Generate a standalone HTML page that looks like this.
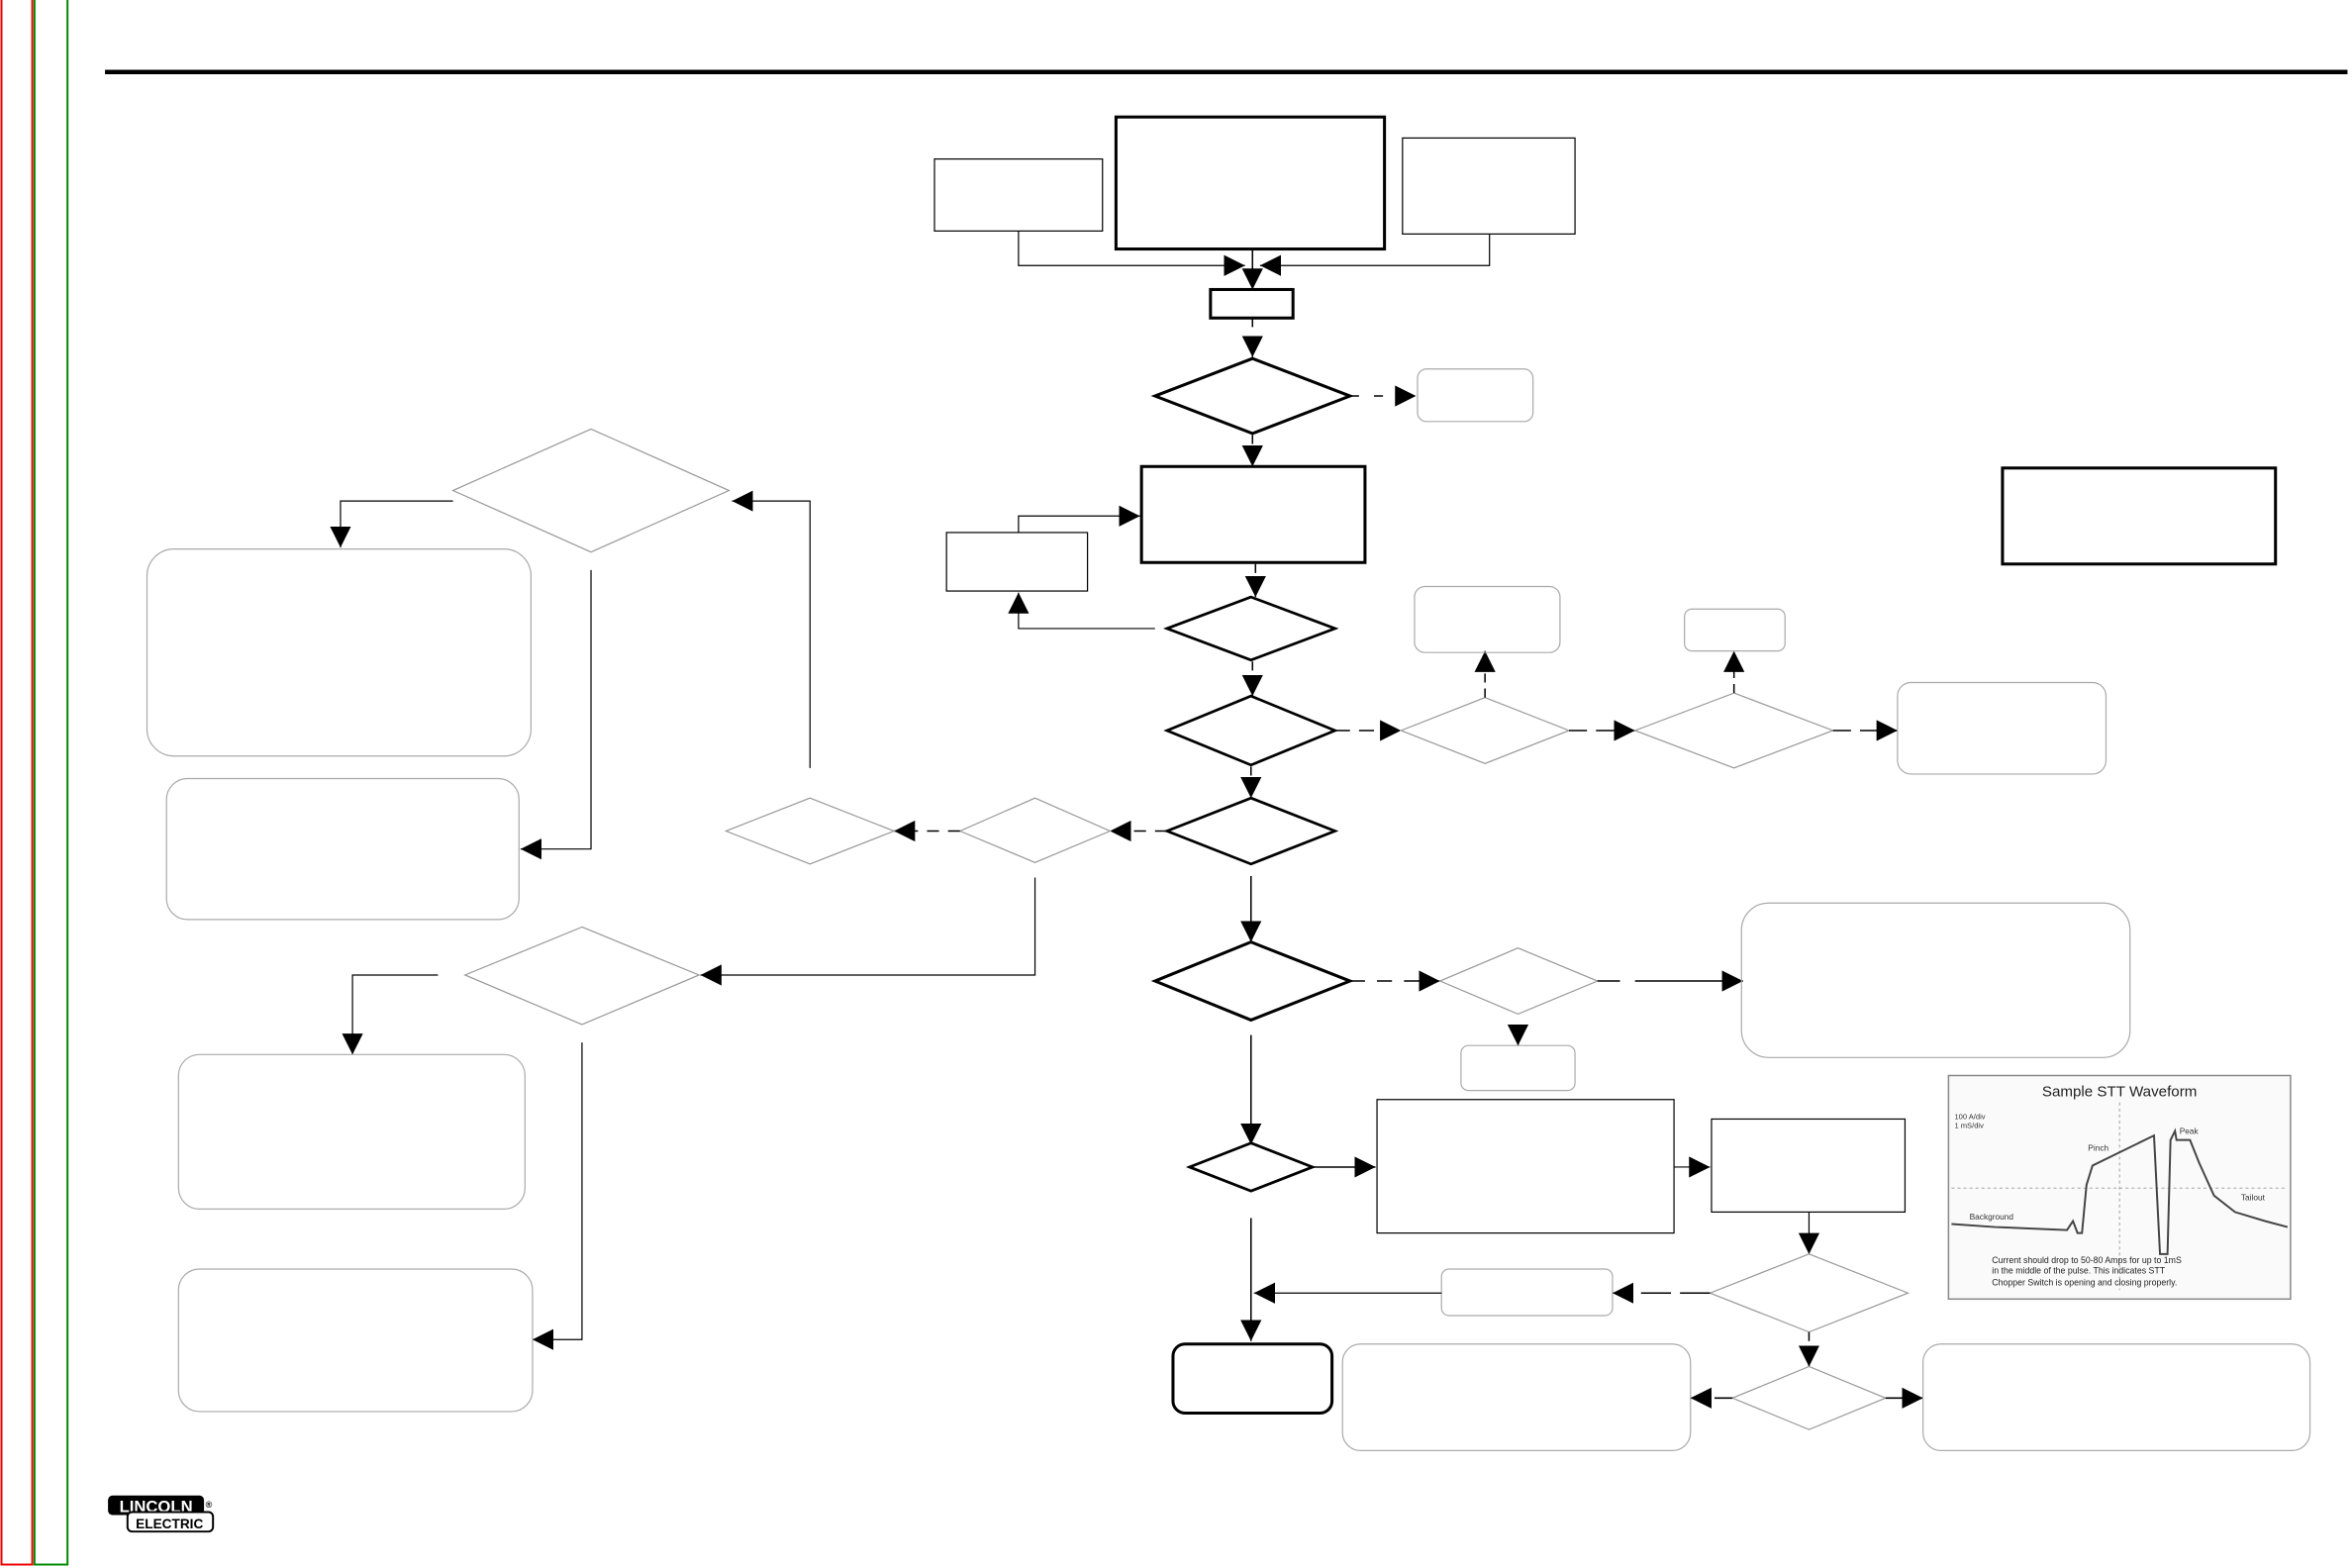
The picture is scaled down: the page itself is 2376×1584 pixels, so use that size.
<!DOCTYPE html>
<html><head><meta charset="utf-8"><style>
html,body{margin:0;padding:0;background:#fff;width:2376px;height:1584px;overflow:hidden}
svg{display:block}
</style></head><body>
<svg width="2376" height="1584" viewBox="0 0 1568 1045.3" preserveAspectRatio="none" xmlns="http://www.w3.org/2000/svg">
<defs>
<marker id="a" markerWidth="14" markerHeight="14" refX="14" refY="7" orient="auto" markerUnits="userSpaceOnUse"><path d="M0,0 L14,7 L0,14 z" fill="#000"/></marker>
</defs>
<rect x="1" y="-2" width="20.5" height="1045" fill="none" stroke="#e00" stroke-width="1.3"/>
<rect x="23" y="-2" width="22" height="1045" fill="none" stroke="#080" stroke-width="1.3"/>
<line x1="70" y1="48" x2="1565" y2="48" stroke="#000" stroke-width="3"/>

<g fill="none" stroke="#000">
<rect x="623" y="106" width="112" height="48" stroke-width="0.8"/>
<rect x="744" y="78" width="179" height="88" stroke-width="2"/>
<rect x="935" y="92" width="115" height="64" stroke-width="0.8"/>
<path d="M679,154 V177 H830" stroke-width="0.8" marker-end="url(#a)"/>
<path d="M993,156 V177 H840" stroke-width="0.8" marker-end="url(#a)"/>
<path d="M835,166 V193" stroke-width="1" marker-end="url(#a)"/>
<rect x="807" y="193" width="55" height="19" stroke-width="2"/>
<path d="M835,212 V238" stroke-width="1" stroke-dasharray="6,6" marker-end="url(#a)"/>
<polygon points="835,239 900,264 835,289 770,264" stroke-width="2"/>
<path d="M900,264 H944" stroke-width="1" stroke-dasharray="6,10" marker-end="url(#a)"/>
<rect x="945" y="246" width="77" height="35" rx="6" stroke="#aaa" stroke-width="0.8"/>
<path d="M835,290 V311" stroke-width="1" stroke-dasharray="6,4" marker-end="url(#a)"/>
<rect x="761" y="311" width="149" height="64" stroke-width="2"/>
<rect x="631" y="355" width="94" height="39" stroke-width="0.8"/>
<path d="M679,355 V344 H760" stroke-width="0.8" marker-end="url(#a)"/>
<path d="M837,376 V398" stroke-width="1" stroke-dasharray="6,4" marker-end="url(#a)"/>
<polygon points="834,398 890,419 834,440 778,419" stroke-width="1.8"/>
<path d="M770,419 H679 V395" stroke-width="0.8" marker-end="url(#a)"/>
<path d="M835,441 V464" stroke-width="1" stroke-dasharray="6,4" marker-end="url(#a)"/>
<polygon points="834,464 890,487 834,510 778,487" stroke-width="1.8"/>
<path d="M890,487 H934" stroke-width="1" stroke-dasharray="10,6" marker-end="url(#a)"/>
<polygon points="990,465 1046,487 990,509 934,487" stroke="#999" stroke-width="0.8"/>
<path d="M990,465 V434" stroke-width="1" stroke-dasharray="6,4" marker-end="url(#a)"/>
<rect x="943" y="391" width="97" height="44" rx="7" stroke="#aaa" stroke-width="0.8"/>
<path d="M1046,487 H1090" stroke-width="1" stroke-dasharray="12,6" marker-end="url(#a)"/>
<polygon points="1156,462 1222,487 1156,512 1090,487" stroke="#999" stroke-width="0.8"/>
<path d="M1156,462 V434" stroke-width="1" stroke-dasharray="6,4" marker-end="url(#a)"/>
<rect x="1123" y="406" width="67" height="28" rx="5" stroke="#aaa" stroke-width="0.8"/>
<path d="M1222,487 H1265" stroke-width="1" stroke-dasharray="12,6" marker-end="url(#a)"/>
<rect x="1265" y="455" width="139" height="61" rx="9" stroke="#aaa" stroke-width="0.8"/>
<path d="M834,511 V532" stroke-width="1" stroke-dasharray="6,4" marker-end="url(#a)"/>
<polygon points="834,532 890,554 834,576 778,554" stroke-width="1.8"/>
<path d="M778,554 H740" stroke-width="1" stroke-dasharray="8,6" marker-end="url(#a)"/>
<polygon points="690,532 740,554 690,575 640,554" stroke="#999" stroke-width="0.8"/>
<path d="M640,554 H596" stroke-width="1" stroke-dasharray="8,6" marker-end="url(#a)"/>
<polygon points="540,532 596,554 540,576 484,554" stroke="#999" stroke-width="0.8"/>
<path d="M540,512 V334 H488" stroke-width="0.8" marker-end="url(#a)"/>
<polygon points="394,286 486,327 394,368 302,327" stroke="#999" stroke-width="0.8"/>
<path d="M302,334 H227 V365" stroke-width="0.8" marker-end="url(#a)"/>
<rect x="98" y="366" width="256" height="138" rx="18" stroke="#aaa" stroke-width="0.8"/>
<path d="M394,380 V566 H347" stroke-width="0.8" marker-end="url(#a)"/>
<rect x="111" y="519" width="235" height="94" rx="14" stroke="#aaa" stroke-width="0.8"/>
<path d="M690,585 V650 H467" stroke-width="0.8" marker-end="url(#a)"/>
<polygon points="388,618 466,650 388,683 310,650" stroke="#999" stroke-width="0.8"/>
<path d="M292,650 H235 V703" stroke-width="0.8" marker-end="url(#a)"/>
<rect x="119" y="703" width="231" height="103" rx="14" stroke="#aaa" stroke-width="0.8"/>
<path d="M388,695 V893 H355" stroke-width="0.8" marker-end="url(#a)"/>
<rect x="119" y="846" width="236" height="95" rx="14" stroke="#aaa" stroke-width="0.8"/>
<path d="M834,584 V628" stroke-width="1" marker-end="url(#a)"/>
<polygon points="834,628 900,654 834,680 770,654" stroke-width="2"/>
<path d="M900,654 H960" stroke-width="1" stroke-dasharray="10,8" marker-end="url(#a)"/>
<polygon points="1012,632 1065,654 1012,676 960,654" stroke="#999" stroke-width="0.8"/>
<path d="M1065,654 H1080 M1090,654 H1162" stroke-width="1" marker-end="url(#a)"/>
<rect x="1161" y="602" width="259" height="103" rx="18" stroke="#aaa" stroke-width="0.8"/>
<path d="M1012,684 V697" stroke-width="1" marker-end="url(#a)"/>
<rect x="974" y="697" width="76" height="30" rx="5" stroke="#aaa" stroke-width="0.8"/>
<path d="M834,690 V763" stroke-width="1" marker-end="url(#a)"/>
<polygon points="834,762 875,778 834,794 793,778" stroke-width="1.8"/>
<path d="M875,778 H917" stroke-width="1" marker-end="url(#a)"/>
<rect x="918" y="733" width="198" height="89" stroke-width="0.8"/>
<path d="M1116,778 H1140" stroke-width="0.8" marker-end="url(#a)"/>
<rect x="1141" y="746" width="129" height="62" stroke-width="0.8"/>
<path d="M1206,808 V836" stroke-width="0.8" marker-end="url(#a)"/>
<polygon points="1206,836 1272,862 1206,888 1140,862" stroke="#999" stroke-width="0.8"/>
<path d="M1140,862 H1075" stroke-width="1" stroke-dasharray="20,6" marker-end="url(#a)"/>
<rect x="961" y="846" width="114" height="31" rx="5" stroke="#aaa" stroke-width="0.8"/>
<path d="M961,862 H836" stroke-width="0.8" marker-end="url(#a)"/>
<path d="M1206,888 V911" stroke-width="1" stroke-dasharray="6,4" marker-end="url(#a)"/>
<polygon points="1206,911 1257,932 1206,953 1155,932" stroke="#999" stroke-width="0.8"/>
<path d="M1155,932 H1127" stroke-width="1" stroke-dasharray="12,4" marker-end="url(#a)"/>
<rect x="895" y="896" width="232" height="71" rx="12" stroke="#aaa" stroke-width="0.8"/>
<path d="M1257,932 H1282" stroke-width="1" stroke-dasharray="12,4" marker-end="url(#a)"/>
<rect x="1282" y="896" width="258" height="71" rx="12" stroke="#aaa" stroke-width="0.8"/>
<path d="M834,812 V894" stroke-width="1" marker-end="url(#a)"/>
<rect x="782" y="896" width="106" height="46" rx="8" stroke-width="2"/>
<rect x="1335" y="312" width="182" height="64" stroke-width="2"/>
</g>

<g>
<rect x="1299" y="717" width="228" height="149" fill="#fafafa" stroke="#888" stroke-width="1"/>
<text x="1413" y="731" font-family="Liberation Sans, sans-serif" font-size="10" text-anchor="middle" fill="#222">Sample STT Waveform</text>
<text x="1303" y="746" font-family="Liberation Sans, sans-serif" font-size="5" fill="#333">100 A/div</text>
<text x="1303" y="752" font-family="Liberation Sans, sans-serif" font-size="5" fill="#333">1 mS/div</text>
<line x1="1301" y1="792" x2="1525" y2="792" stroke="#999" stroke-width="0.6" stroke-dasharray="2,2"/>
<line x1="1413" y1="735" x2="1413" y2="860" stroke="#999" stroke-width="0.6" stroke-dasharray="2,2"/>
<path d="M1301,816 L1330,818 L1378,820 L1382,814 L1385,822 L1388,822 L1391,790 L1395,777 L1436,757 L1440,836 L1445,836 L1447,760 L1450,754 L1451,760 L1460,760 L1466,775 L1476,797 L1490,808 L1510,814 L1525,818" fill="none" stroke="#444" stroke-width="1.3"/>
<text x="1392" y="767" font-family="Liberation Sans, sans-serif" font-size="5.5" fill="#333">Pinch</text>
<text x="1453" y="756" font-family="Liberation Sans, sans-serif" font-size="5.5" fill="#333">Peak</text>
<text x="1494" y="800" font-family="Liberation Sans, sans-serif" font-size="5.5" fill="#333">Tailout</text>
<text x="1313" y="813" font-family="Liberation Sans, sans-serif" font-size="5.5" fill="#333">Background</text>
<text x="1328" y="842" font-family="Liberation Sans, sans-serif" font-size="5.8" fill="#222">Current should drop to 50-80 Amps for up to 1mS</text>
<text x="1328" y="849" font-family="Liberation Sans, sans-serif" font-size="5.8" fill="#222">in the middle of the pulse. This indicates STT</text>
<text x="1328" y="857" font-family="Liberation Sans, sans-serif" font-size="5.8" fill="#222">Chopper Switch is opening and closing properly.</text>
</g>

<g font-family="Liberation Sans, sans-serif" font-weight="bold">
<rect x="72" y="997" width="64" height="13" rx="3" fill="#000"/>
<text x="104" y="1008" font-size="11" text-anchor="middle" fill="#fff">LINCOLN</text>
<rect x="85" y="1008" width="57" height="13" rx="3" fill="#fff" stroke="#000" stroke-width="1.3"/>
<text x="113" y="1019" font-size="9" text-anchor="middle" fill="#000">ELECTRIC</text>
<text x="137" y="1005" font-size="6" fill="#000">®</text>
</g>
</svg>
</body></html>
